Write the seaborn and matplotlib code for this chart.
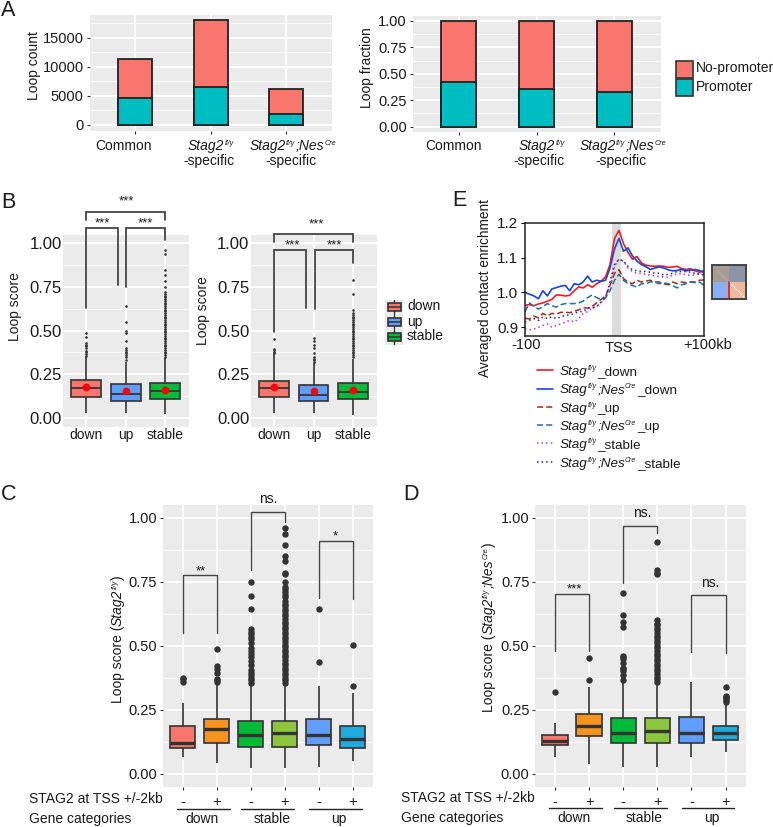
import numpy as np
import pandas as pd
import seaborn as sns
import matplotlib
matplotlib.use('Agg')
import matplotlib.pyplot as plt
from matplotlib.patches import Rectangle

W, H = 773, 827

# panel A
a_categories = ['Common', 'Stag2 specific', 'Stag2;Nes specific']
a_total = [11340, 18040, 6190]
a_promoter = [4690, 6470, 1940]
a_frac_total = [1.0, 1.0, 1.0]
a_frac_promoter = [0.42, 0.36, 0.33]

# panel B
b_groups = ['down', 'up', 'stable']
bl_low = [0.03, 0.03, 0.023]
bl_q1 = [0.122, 0.10, 0.107]
bl_med = [0.174, 0.137, 0.153]
bl_q3 = [0.216, 0.193, 0.202]
bl_high = [0.35, 0.32, 0.345]
bl_mean = [0.177, 0.152, 0.16]
bl_out = [
    [0.355, 0.365, 0.375, 0.385, 0.40, 0.41, 0.42, 0.43, 0.465, 0.487],
    [0.33, 0.35, 0.36, 0.37, 0.38, 0.39, 0.40, 0.44, 0.485, 0.50, 0.55, 0.64],
    [0.35, 0.36, 0.37, 0.38, 0.39, 0.40, 0.41, 0.42, 0.43, 0.44, 0.45, 0.46, 0.47, 0.48,
     0.49, 0.50, 0.51, 0.52, 0.53, 0.54, 0.55, 0.56, 0.57, 0.58, 0.59, 0.60, 0.61, 0.62,
     0.63, 0.64, 0.65, 0.66, 0.67, 0.68, 0.69, 0.70, 0.71, 0.72, 0.75, 0.785, 0.82, 0.85, 0.94, 0.96],
]
br_low = [0.03, 0.03, 0.02]
br_q1 = [0.118, 0.097, 0.107]
br_med = [0.17, 0.134, 0.151]
br_q3 = [0.214, 0.187, 0.20]
br_high = [0.365, 0.315, 0.34]
br_mean = [0.175, 0.152, 0.16]
br_out = [
    [0.37, 0.38, 0.39, 0.395, 0.45],
    [0.32, 0.33, 0.34, 0.35, 0.37, 0.40, 0.42, 0.44, 0.46],
    [0.35, 0.36, 0.37, 0.38, 0.39, 0.40, 0.41, 0.42, 0.43, 0.44, 0.45, 0.46, 0.47, 0.48,
     0.49, 0.50, 0.51, 0.52, 0.53, 0.54, 0.55, 0.56, 0.57, 0.58, 0.59, 0.60, 0.62, 0.71, 0.79],
]

# panels C and D
cd_groups = ['down -', 'down +', 'stable -', 'stable +', 'up -', 'up +']
c_low = [0.065, 0.043, 0.022, 0.022, 0.029, 0.05]
c_q1 = [0.103, 0.121, 0.107, 0.107, 0.114, 0.10]
c_med = [0.122, 0.174, 0.151, 0.159, 0.152, 0.138]
c_q3 = [0.186, 0.215, 0.208, 0.208, 0.215, 0.186]
c_high = [0.278, 0.355, 0.35, 0.35, 0.343, 0.315]
c_out = [
    [0.358, 0.37, 0.376],
    [0.36, 0.365, 0.37, 0.395, 0.41, 0.42, 0.487],
    [0.355, 0.365, 0.375, 0.385, 0.395, 0.405, 0.425, 0.44, 0.455, 0.47, 0.48, 0.49, 0.51,
     0.525, 0.535, 0.545, 0.555, 0.565, 0.645, 0.695, 0.75],
    [0.355, 0.365, 0.375, 0.385, 0.395, 0.405, 0.415, 0.425, 0.435, 0.445, 0.455, 0.465, 0.475,
     0.485, 0.495, 0.505, 0.515, 0.525, 0.535, 0.545, 0.555, 0.565, 0.575, 0.585, 0.595, 0.605,
     0.615, 0.625, 0.635, 0.645, 0.655, 0.665, 0.675, 0.69, 0.70, 0.71, 0.72, 0.73, 0.75, 0.78,
     0.785, 0.83, 0.85, 0.895, 0.937, 0.96],
    [0.437, 0.645],
    [0.345, 0.502],
]
d_low = [0.068, 0.04, 0.029, 0.029, 0.068, 0.085]
d_q1 = [0.112, 0.15, 0.121, 0.121, 0.121, 0.131]
d_med = [0.13, 0.189, 0.161, 0.169, 0.16, 0.161]
d_q3 = [0.151, 0.235, 0.217, 0.217, 0.221, 0.189]
d_high = [0.198, 0.338, 0.36, 0.355, 0.358, 0.278]
d_out = [
    [0.32],
    [0.367, 0.452],
    [0.367, 0.385, 0.40, 0.41, 0.415, 0.435, 0.45, 0.455, 0.46, 0.575, 0.595, 0.62, 0.705],
    [0.36, 0.37, 0.38, 0.39, 0.40, 0.41, 0.42, 0.43, 0.44, 0.45, 0.46, 0.47, 0.48, 0.49, 0.50,
     0.51, 0.52, 0.53, 0.54, 0.55, 0.56, 0.57, 0.58, 0.585, 0.60, 0.78, 0.785, 0.795, 0.905],
    [],
    [0.28, 0.29, 0.295, 0.30, 0.305, 0.338],
]

# panel E
kb = list(range(-100, 105, 5))
fl_down = [0.963, 0.965, 0.962, 0.967, 0.97, 0.975, 0.98, 0.993, 0.992, 0.99, 0.992, 1.005, 1.016, 1.013,
           1.022, 1.015, 1.025, 1.032, 1.045, 1.08, 1.155, 1.178, 1.14, 1.115, 1.095, 1.103, 1.085, 1.078,
           1.076, 1.075, 1.076, 1.075, 1.072, 1.073, 1.075, 1.068, 1.066, 1.068, 1.062, 1.058, 1.062]
nes_down = [1.0, 0.995, 0.99, 0.982, 1.005, 0.99, 1.01, 1.014, 1.018, 1.02, 1.005, 1.025, 1.022, 1.03,
            1.047, 1.03, 1.035, 1.032, 1.035, 1.07, 1.125, 1.155, 1.118, 1.128, 1.105, 1.09, 1.08, 1.074,
            1.066, 1.07, 1.073, 1.07, 1.065, 1.062, 1.063, 1.066, 1.062, 1.064, 1.066, 1.063, 1.057]
fl_up = [0.926, 0.924, 0.932, 0.927, 0.94, 0.933, 0.94, 0.938, 0.943, 0.943, 0.942, 0.946, 0.95, 0.956,
         0.955, 0.96, 0.97, 0.98, 0.99, 1.02, 1.055, 1.065, 1.04, 1.03, 1.025, 1.035, 1.03, 1.033,
         1.035, 1.03, 1.03, 1.025, 1.022, 1.03, 1.025, 1.03, 1.028, 1.03, 1.03, 1.035, 1.036]
nes_up = [0.945, 0.97, 0.96, 0.952, 0.96, 0.968, 0.962, 0.958, 0.965, 0.968, 0.968, 0.968, 0.97, 0.975,
          0.985, 0.993, 0.985, 0.98, 0.985, 1.005, 1.035, 1.052, 1.035, 1.025, 1.02, 1.015, 1.025, 1.025,
          1.03, 1.03, 1.025, 1.028, 1.025, 1.02, 1.013, 1.022, 1.025, 1.03, 1.028, 1.03, 1.02]
fl_stable = [0.895, 0.893, 0.895, 0.90, 0.905, 0.91, 0.90, 0.905, 0.91, 0.915, 0.92, 0.915, 0.925, 0.94,
             0.945, 0.955, 0.96, 0.97, 0.985, 1.02, 1.075, 1.095, 1.09, 1.07, 1.06, 1.055, 1.055, 1.052,
             1.05, 1.048, 1.045, 1.045, 1.043, 1.05, 1.052, 1.055, 1.05, 1.05, 1.05, 1.055, 1.05]
nes_stable = [0.915, 0.92, 0.925, 0.92, 0.93, 0.925, 0.93, 0.925, 0.93, 0.935, 0.935, 0.94, 0.945, 0.945,
              0.955, 0.955, 0.96, 0.972, 0.985, 1.03, 1.08, 1.095, 1.09, 1.075, 1.065, 1.062, 1.06, 1.06,
              1.058, 1.055, 1.055, 1.05, 1.052, 1.055, 1.06, 1.06, 1.06, 1.058, 1.055, 1.052, 1.05]

RED = '#F8766D'
TEAL = '#00BDC4'
BOX_B = ['#F8766D', '#619CFF', '#00BA38']
BOX_CD = ['#F8766D', '#F7931E', '#00BA38', '#8CC63F', '#619CFF', '#1FABE0']
DARK = '#333333'
TXT = '#1a1a1a'

sns.set_theme(style='darkgrid', rc={
    'axes.facecolor': '#EBEBEB', 'grid.color': 'white', 'grid.linewidth': 1.3,
    'xtick.bottom': True, 'ytick.left': True, 'xtick.color': DARK, 'ytick.color': DARK,
    'xtick.major.size': 2.5, 'ytick.major.size': 2.5, 'xtick.major.width': 0.8, 'ytick.major.width': 0.8,
    'axes.spines.left': False, 'axes.spines.bottom': False, 'axes.spines.right': False, 'axes.spines.top': False,
})
plt.rcParams['font.family'] = ['Liberation Sans', 'DejaVu Sans']

# text runs: 'r' upright, 'i' italic, 's' small raised italic
STAG2 = [('Stag2', 'i'), ('fl/y', 's')]
STAG2NES = STAG2 + [(';Nes', 'i'), ('Cre', 's')]
STAG = [('Stag', 'i'), ('fl/y', 's')]
STAGNES = STAG + [(';Nes', 'i'), ('Cre', 's')]

fig = plt.figure(figsize=(W / 100, H / 100), dpi=100, facecolor='white')
renderer = fig.canvas.get_renderer()


def axes_px(left, top, right, bottom):
    return fig.add_axes([left / W, 1 - bottom / H, (right - left) / W, (bottom - top) / H])


# full size layer in picture pixels for labels and legends
ov = fig.add_axes([0, 0, 1, 1], zorder=10)
ov.set_xlim(0, W)
ov.set_ylim(H, 0)
ov.axis('off')
ov.patch.set_alpha(0)


def label(x, y, s, size=10, ha='center', rotation=0):
    ov.text(x, y, s, fontsize=size, ha=ha, va='center', rotation=rotation, color=TXT)


def rich(x, y, runs, size=10, ha='center', rotation=0):
    # lay out runs one after the other so superscripts can stay small
    em = size * 100 / 72
    widths = []
    for s, kind in runs:
        t = ov.text(0, 0, s, fontsize=size * 0.52 if kind == 's' else size,
                    style='normal' if kind == 'r' else 'italic')
        widths.append(t.get_window_extent(renderer).width + (0.5 if kind == 's' else 0))
        t.remove()
    total = sum(widths)
    pos = -total / 2 if ha == 'center' else 0
    for (s, kind), w in zip(runs, widths):
        lift = 0.36 * em if kind == 's' else 0
        if rotation == 90:
            px, py = x + 0.35 * em - lift, y - pos
        else:
            px, py = x + pos, y + 0.35 * em - lift
        ov.text(px, py, s, fontsize=size * 0.52 if kind == 's' else size,
                style='normal' if kind == 'r' else 'italic', ha='left', va='baseline',
                rotation=rotation, rotation_mode='anchor', color=TXT)
        pos += w


def finish_grid(ax, ticks):
    ax.set_yticks(ticks, minor=True)
    ax.grid(True, which='major', axis='both', color='white', linewidth=1.3)
    ax.grid(True, which='minor', axis='y', color='white', linewidth=0.6)
    ax.tick_params(which='minor', length=0)
    ax.set_axisbelow(True)


def stacked_bars(ax, total, lower, xlim, ylim, yticks, ylabels, minor):
    sns.barplot(x=a_categories, y=total, color=RED, saturation=1, width=0.45,
                edgecolor='#222222', linewidth=1.3, ax=ax)
    sns.barplot(x=a_categories, y=lower, color=TEAL, saturation=1, width=0.45,
                edgecolor='#222222', linewidth=1.3, ax=ax)
    ax.set_xlim(*xlim)
    ax.set_ylim(*ylim)
    ax.set_yticks(yticks, ylabels, fontsize=10.5, color=TXT)
    ax.set_xticks([0, 1, 2], ['', '', ''])
    ax.tick_params(axis='y', pad=2)
    ax.set_xlabel('')
    ax.set_ylabel('')
    finish_grid(ax, minor)


def box_panel(ax, groups, low, q1, med, q3, high, out, colors, lw, med_lw, flier_size, xlim):
    rows = []
    for g, vals in zip(groups, zip(low, q1, med, q3, high)):
        rows += [(g, v) for v in vals]
    df = pd.DataFrame(rows, columns=['group', 'score'])
    fl = pd.DataFrame([(g, v) for g, o in zip(groups, out) for v in o], columns=['group', 'score'])
    sns.boxplot(data=df, x='group', y='score', hue='group', order=groups, hue_order=groups,
                palette=colors, saturation=1, width=0.75, whis=(0, 100), showfliers=False, showcaps=False,
                linecolor=DARK, linewidth=lw, medianprops={'linewidth': med_lw}, legend=False, ax=ax)
    sns.stripplot(data=fl, x='group', y='score', order=groups, color=DARK, size=flier_size,
                  jitter=False, linewidth=0, zorder=4, ax=ax)
    ax.set_xlim(*xlim)
    ax.set_xlabel('')
    ax.set_ylabel('')


def bracket(ax, x0, x1, top, left_end, right_end, lw=1.0, color='#444444'):
    ax.plot([x0, x0, x1, x1], [left_end, top, top, right_end], color=color, lw=lw,
            clip_on=False, zorder=6, solid_joinstyle='miter')


# ---- A
ax = axes_px(90, 15, 332, 130.7)
stacked_bars(ax, a_total, a_promoter, (-0.6, 2.61), (-980, 18900),
             [0, 5000, 10000, 15000], ['0', '5000', '10000', '15000'], [2500, 7500, 12500, 17500])
ax = axes_px(413, 16, 661, 131.7)
stacked_bars(ax, a_frac_total, a_frac_promoter, (-0.59, 2.6), (-0.048, 1.047),
             [0, 0.25, 0.5, 0.75, 1], ['0.00', '0.25', '0.50', '0.75', '1.00'],
             [0.125, 0.375, 0.625, 0.875])

label(34, 66, 'Loop count', rotation=90)
label(367.5, 68, 'Loop fraction', rotation=90)
for x, s, y in [(124, 'Common', 146), (209, '-specific', 161), (291, '-specific', 161),
                (454, 'Common', 146), (539, '-specific', 161), (621, '-specific', 161)]:
    label(x, y, s)
for x, runs in [(211, STAG2), (293, STAG2NES), (542, STAG2), (623, STAG2NES)]:
    rich(x, 145, runs)
ov.add_patch(Rectangle((676, 61), 16.5, 17, fc=RED, ec=DARK, lw=1.2))
ov.add_patch(Rectangle((676, 79), 16.5, 17, fc=TEAL, ec=DARK, lw=1.2))
label(695.5, 68, 'No-promoter', ha='left')
label(695.5, 87, 'Promoter', ha='left')

# ---- B
b_xlim = (-0.585, 2.6)
for px, lo, q1, me, q3, hi, ou, mn in [
    ((63, 189), bl_low, bl_q1, bl_med, bl_q3, bl_high, bl_out, bl_mean),
    ((250.7, 377), br_low, br_q1, br_med, br_q3, br_high, br_out, br_mean),
]:
    ax = axes_px(px[0], 235, px[1], 427)
    box_panel(ax, b_groups, lo, q1, me, q3, hi, ou, BOX_B, 1.2, 1.3, 1.9, b_xlim)
    sns.stripplot(x=b_groups, y=mn, order=b_groups, color='#FF0000', size=5.5, jitter=False,
                  linewidth=0, zorder=5, ax=ax)
    ax.set_xlim(*b_xlim)
    ax.set_ylim(-0.0515, 1.0475)
    ax.set_yticks([0, 0.25, 0.5, 0.75, 1], ['0.00', '0.25', '0.50', '0.75', '1.00'], fontsize=12, color=TXT)
    ax.tick_params(axis='both', length=0, pad=1)
    ax.tick_params(axis='x', labelsize=10, labelcolor=TXT)
    finish_grid(ax, [0.125, 0.375, 0.625, 0.875])
    if px[0] == 63:
        bracket(ax, 0, 2, 1.18, 1.135, 1.135, 1.3)
        bracket(ax, 0, 0.81, 1.09, 0.628, 0.76, 1.3)
        bracket(ax, 1.02, 2, 1.09, 0.752, 1.02, 1.3)
    else:
        bracket(ax, 0, 2, 1.053, 1.01, 1.01, 1.3)
        bracket(ax, 0, 0.807, 0.962, 0.494, 0.628, 1.3)
        bracket(ax, 1.025, 2, 0.962, 0.622, 0.889, 1.3)

label(15, 307, 'Loop score', rotation=90)
label(203, 311, 'Loop score', rotation=90)
for x, y in [(126, 201), (102, 223), (145, 223), (316, 224), (292, 245), (334, 245)]:
    label(x, y, '***', size=9.5)
ov.add_patch(Rectangle((385, 300), 18, 45, fc='#EBEBEB', ec='none'))
for y, col in zip([307, 322, 337], BOX_B):
    ov.plot([394, 394], [y - 7, y + 7], color=DARK, lw=1)
    ov.add_patch(Rectangle((387.5, y - 4), 13, 8, fc=col, ec=DARK, lw=1.2, zorder=3))
    ov.plot([387.5, 400.5], [y, y], color=DARK, lw=1.1, zorder=4)
for y, s in zip([306.5, 322, 336.5], b_groups):
    label(407, y, s, ha='left')

# ---- C and D
cd_xlim = (-0.59, 5.59)
for px, lo, q1, me, q3, hi, ou in [
    ((162.7, 372.7), c_low, c_q1, c_med, c_q3, c_high, c_out),
    ((535, 745.7), d_low, d_q1, d_med, d_q3, d_high, d_out),
]:
    ax = axes_px(px[0], 505, px[1], 786.7)
    box_panel(ax, cd_groups, lo, q1, me, q3, hi, ou, BOX_CD, 1.2, 2.4, 4.6, cd_xlim)
    ax.set_ylim(-0.0496, 1.0496)
    ax.set_yticks([0, 0.25, 0.5, 0.75, 1], ['0.00', '0.25', '0.50', '0.75', '1.00'], fontsize=10.5, color=TXT)
    ax.set_xticks(range(6), ['-', '+', '-', '+', '-', '+'], fontsize=10.5, color=TXT)
    ax.tick_params(axis='y', pad=1.5)
    finish_grid(ax, [0.125, 0.375, 0.625, 0.875])
    if px[0] < 200:
        bracket(ax, 0, 1, 0.775, 0.551, 0.549)
        bracket(ax, 2, 3, 1.021, 0.796, 0.984)
        bracket(ax, 4, 5, 0.908, 0.685, 0.681)
    else:
        bracket(ax, 0, 1, 0.703, 0.48, 0.478)
        bracket(ax, 2, 3, 0.969, 0.744, 0.939)
        bracket(ax, 4, 5, 0.70, 0.475, 0.474)

rich(117, 639, [('Loop score (', 'r')] + STAG2 + [(')', 'r')], rotation=90)
rich(488, 627, [('Loop score (', 'r')] + STAG2NES + [(')', 'r')], rotation=90)
label(201, 571, '**', size=9.5)
label(268, 499, 'ns.')
label(335, 536, '*', size=9.5)
label(574, 589, '***', size=9.5)
label(642, 513, 'ns.')
label(710, 583, 'ns.')

for left, y1, y2, line_y, spans, centers in [
    (29, 799, 819, 809.3, [(176.7, 229.7), (241, 294), (309, 362)], [201.7, 271.7, 339]),
    (401, 798, 818, 808, [(549.3, 602), (614, 666.7), (681.7, 734.3)], [574, 644, 711.7]),
]:
    label(left, y1, 'STAG2 at TSS +/-2kb', ha='left')
    label(left, y2, 'Gene categories', ha='left')
    for (a, b), c, s in zip(spans, centers, ['down', 'stable', 'up']):
        ov.plot([a, b], [line_y, line_y], color='#222222', lw=1)
        label(c, y2, s)

# ---- E
ax = axes_px(525, 222.7, 704, 335.7)
ax.set_facecolor('white')
ax.axvspan(-3, 7.3, color='#DCDCDC', lw=0)
e_series = [(fl_down, '#EE1C25', (None, None), 1.2), (nes_down, '#1546E0', (None, None), 1.2),
            (fl_up, '#A32A1C', (4, 2), 1.1), (nes_up, '#1C6EA4', (4, 2), 1.1),
            (fl_stable, '#B23CC0', (1, 2), 1.1), (nes_stable, '#2B2B8C', (1, 2), 1.1)]
for vals, col, dash, lw in e_series:
    line = sns.lineplot(x=kb, y=vals, color=col, lw=lw, ax=ax).lines[-1]
    if dash[0] is not None:
        line.set_dashes(dash)
ax.set_xlim(-100, 100)
ax.set_ylim(0.876, 1.2)
ax.set_yticks([0.9, 1.0, 1.1, 1.2], ['0.9', '1.0', '1.1', '1.2'], fontsize=11, color=TXT)
ax.set_xticks([5], ['TSS'], fontsize=10.5, color=TXT)
ax.grid(False)
ax.tick_params(axis='x', length=0)
ax.tick_params(axis='y', length=3, color='black', pad=2)
for s in ax.spines.values():
    s.set_visible(True)
    s.set_color('#222222')
    s.set_linewidth(1.1)
label(526, 345, '-100', size=10.5)
label(708, 345, '+100kb', size=10.5)
label(485, 288, 'Averaged contact enrichment', size=9.8, rotation=90)

legend_names = [STAG + [('_down', 'r')], STAGNES + [('_down', 'r')], STAG + [('_up', 'r')],
                STAGNES + [('_up', 'r')], STAG + [('_stable', 'r')], STAGNES + [('_stable', 'r')]]
for y, name, (vals, col, dash, lw) in zip([370, 388.5, 407, 425, 443, 462], legend_names, e_series):
    key = ov.plot([537, 553], [y, y], color=col, lw=lw)[0]
    if dash[0] is not None:
        key.set_dashes(dash)
    rich(560, y, name, size=9.7, ha='left')

# contact map tile beside E
tile = axes_px(711.7, 264.7, 745.7, 298.7)
tile_rgb = np.array([[[167, 156, 147], [142, 147, 167]], [[139, 176, 244], [239, 185, 160]]]) / 255
tile.imshow(tile_rgb, extent=(0, 2, 2, 0), aspect='auto', interpolation='nearest')
tile.plot([1, 2], [1, 2], color='white', lw=0.8, ls=(0, (2, 1)))
tile.plot([0, 1], [0, 1], color='#b3a89f', lw=0.8)
tile.plot([1, 1], [1, 2], color='#EE1C25', lw=1.3)
tile.set_xlim(0, 2)
tile.set_ylim(2, 0)
tile.set_xticks([])
tile.set_yticks([])
tile.grid(False)
for s in tile.spines.values():
    s.set_visible(True)
    s.set_color('#444444')
    s.set_linewidth(1.4)

# panel letters
for x, y, s in [(1, 10, 'A'), (1, 203, 'B'), (1, 495, 'C'), (403, 495, 'D'), (452, 200, 'E')]:
    label(x, y, s, size=15.5, ha='left')

fig.savefig('out.png', dpi=100)
